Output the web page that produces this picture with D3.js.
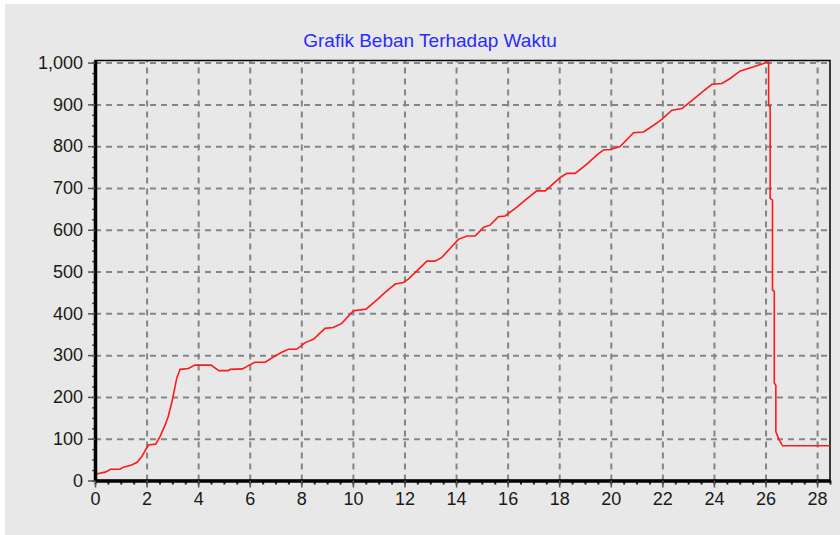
<!DOCTYPE html>
<html>
<head>
<meta charset="utf-8">
<script src="https://cdn.jsdelivr.net/npm/d3@7"></script>
<style>
  body { margin: 0; background: #ffffff; }
  svg { display: block; }
  .tick text { font-family: "Liberation Sans", Arial, sans-serif; font-size: 18px; fill: #1a1a1a; }
</style>
</head>
<body>
<svg id="chart"></svg>
<script>
// waktu (s) and beban values
const waktu = [0.0, 0.1, 0.4, 0.6, 0.97, 1.1, 1.42, 1.62, 1.81, 2.07, 2.35, 2.52, 2.72, 2.84, 3.0, 3.17, 3.3, 3.62, 3.88,
    4.5, 4.8, 5.17, 5.24, 5.72, 5.98, 6.2, 6.6, 6.98, 7.24, 7.5, 7.82, 8.15, 8.47, 8.92, 9.24, 9.57, 10.02, 10.51,
    10.93, 11.25, 11.64, 11.96, 12.15, 12.87, 13.19, 13.45, 14.09, 14.42, 14.74, 15.07, 15.32, 15.64, 15.9, 16.36,
    16.68, 17.13, 17.46, 18.04, 18.3, 18.62, 19.07, 19.5, 19.72, 19.98, 20.36, 20.88, 21.27, 21.66, 21.98, 22.37,
    22.76, 23.08, 23.47, 23.92, 24.31, 24.63, 25.02, 25.54, 25.92, 26.05, 26.12, 26.12, 26.18, 26.18, 26.27, 26.27,
    26.34, 26.34, 26.4, 26.4, 26.5, 26.66, 28.5];
const beban = [12, 16, 20, 27, 27, 32, 37, 43, 57, 85, 87, 105, 133, 153, 193, 245, 266, 268, 276,
    276, 263, 263, 266, 267, 276, 283, 283, 298, 307, 314, 314, 330, 338, 364, 366, 376, 406, 410,
    432, 450, 470, 474, 482, 525, 525, 534, 577, 585, 585, 606, 611, 631, 633, 654,
    671, 693, 693, 725, 735, 735, 757, 781, 791, 792, 799, 832, 834, 850, 864, 886,
    890, 906, 926, 948, 950, 962, 980, 990, 998, 1001, 1001, 897, 895, 675, 671, 456,
    452, 233, 228, 117, 101, 83, 83];
const xTicks = d3.range(0, 29, 2);
const yTicks = d3.range(0, 1001, 100);
const judul = "Grafik Beban Terhadap Waktu";

const W = 840, H = 535;
const pLeft = 95, pRight = 830, pTop = 60.5, pBottom = 480.5;

const svg = d3.select('#chart')
    .attr('width', W)
    .attr('height', H);

// panel background
svg.append('rect')
    .attr('x', 5).attr('y', 4)
    .attr('width', W - 5).attr('height', H - 4)
    .attr('fill', '#e8e8e8');

let xScale = d3.scaleLinear().domain([0, 28.5]).range([pLeft, pRight]);
let yScale = d3.scaleLinear().domain([0, 1005]).range([pBottom, pTop]);

// dashed grid
svg.append('g')
    .attr('transform', 'translate(0,' + pBottom + ')')
    .call(d3.axisBottom(xScale).tickValues(xTicks).tickSize(-(pBottom - pTop)).tickFormat(''))
    .call(g => g.select('.domain').remove())
    .call(g => g.selectAll('line').attr('stroke', '#858585').attr('stroke-width', 2).attr('stroke-dasharray', '6,5'));

svg.append('g')
    .attr('transform', 'translate(' + pLeft + ',0)')
    .call(d3.axisLeft(yScale).tickValues(yTicks).tickSize(-(pRight - pLeft)).tickFormat(''))
    .call(g => g.select('.domain').remove())
    .call(g => g.selectAll('line').attr('stroke', '#858585').attr('stroke-width', 2).attr('stroke-dasharray', '6,5'));

// frame
svg.append('rect')
    .attr('x', pLeft).attr('y', pTop)
    .attr('width', pRight - pLeft).attr('height', pBottom - pTop)
    .attr('fill', 'none')
    .attr('stroke', '#000')
    .attr('stroke-width', 1.5);

// line
let line = d3.line()
    .x((d, i) => xScale(waktu[i]))
    .y(d => yScale(d));

svg.append('path')
    .datum(beban)
    .attr('d', line)
    .attr('fill', 'none')
    .attr('stroke', '#ff1a1a')
    .attr('stroke-width', 1.6);

// minor ticks
svg.append('g')
    .attr('transform', 'translate(0,' + pBottom + ')')
    .call(d3.axisBottom(xScale).tickValues(d3.range(0, 28.6, 0.5)).tickSize(4).tickFormat(''))
    .call(g => g.select('.domain').remove())
    .call(g => g.selectAll('line').attr('stroke', '#222').attr('stroke-width', 2));

svg.append('g')
    .attr('transform', 'translate(' + pLeft + ',0)')
    .call(d3.axisLeft(yScale).tickValues(d3.range(0, 1001, 25)).tickSize(3).tickFormat(''))
    .call(g => g.select('.domain').remove())
    .call(g => g.selectAll('line').attr('stroke', '#555').attr('stroke-width', 1.5));

// x-axis
svg.append('g')
    .attr('transform', 'translate(0,' + pBottom + ')')
    .call(d3.axisBottom(xScale).tickValues(xTicks).tickSize(7).tickPadding(5).tickSizeOuter(0))
    .call(g => g.select('.domain').attr('stroke', '#000').attr('stroke-width', 3.5))
    .call(g => g.selectAll('line').attr('stroke', '#555').attr('stroke-width', 1.5));

// y-axis
svg.append('g')
    .attr('transform', 'translate(' + pLeft + ',0)')
    .call(d3.axisLeft(yScale).tickValues(yTicks).tickSize(7).tickPadding(5).tickSizeOuter(0).tickFormat(d3.format(',')))
    .call(g => g.select('.domain').attr('stroke', '#000').attr('stroke-width', 3.5))
    .call(g => g.selectAll('line').attr('stroke', '#555').attr('stroke-width', 1.5));

// title
svg.append('text')
    .attr('x', 430)
    .attr('y', 47)
    .style('text-anchor', 'middle')
    .style('font-family', '"Liberation Sans", Arial, sans-serif')
    .style('font-size', '19px')
    .attr('fill', '#2b2bff')
    .text(judul);
</script>
</body>
</html>
